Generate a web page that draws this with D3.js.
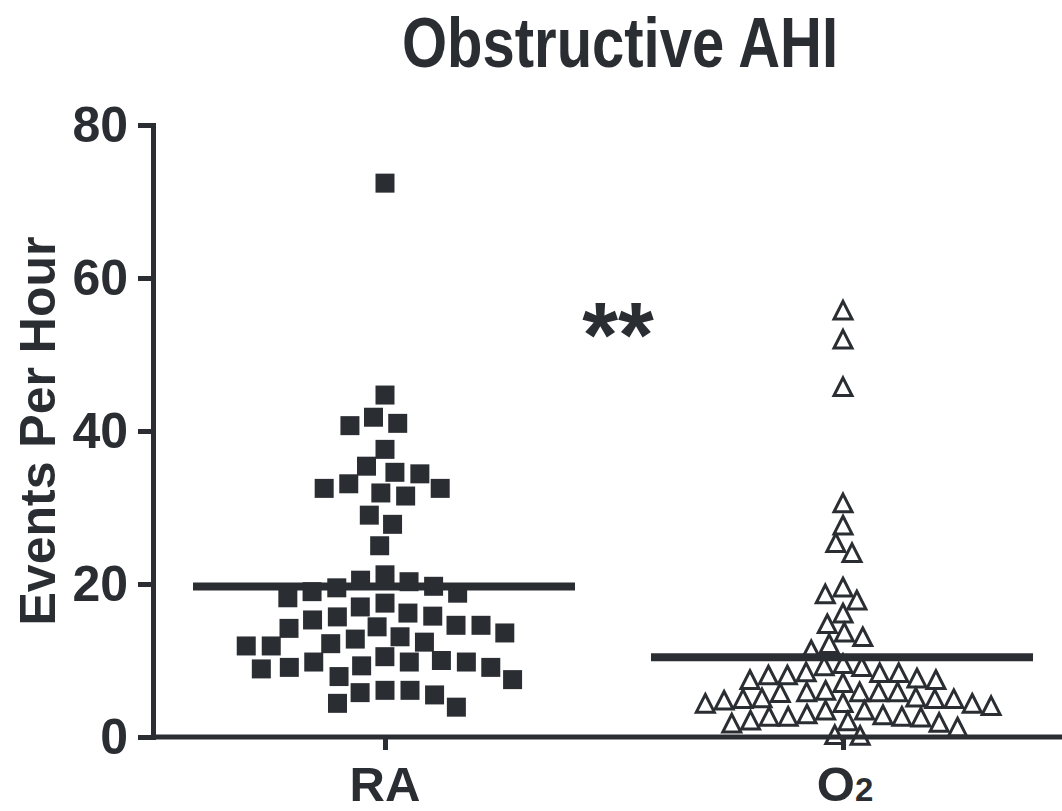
<!DOCTYPE html>
<html lang="en">
<head>
<meta charset="utf-8">
<title>Obstructive AHI</title>
<script src="https://cdn.jsdelivr.net/npm/d3@7/dist/d3.min.js"></script>
<style>
  body { margin: 0; background: #fff; }
  text { font-family: "Liberation Sans", Arial, sans-serif; font-weight: bold; fill: #2a2e33; }
</style>
</head>
<body>
<svg id="chart" width="1062" height="811"></svg>
<script>
  // values (events per hour)
  const groups = ["RA", "O2"];
  const raValues = [72.4, 44.7, 41.8, 41.0, 40.7, 37.6, 35.4, 34.6, 34.4, 33.1, 32.5, 32.5, 31.9, 31.5, 29.0, 27.8, 25.0,
    21.2, 20.5, 20.3, 19.7, 19.5, 19.0, 18.8, 18.2, 17.5, 17.0, 16.2, 15.8, 15.7,
    15.3, 14.6, 14.6, 14.4, 14.2, 13.6, 13.1, 12.8, 12.4, 12.2, 11.9, 11.9,
    10.5, 10.0, 9.8, 9.8, 9.8, 9.3, 9.1, 9.1, 8.9, 7.9, 7.5,
    6.1, 6.1, 5.8, 5.5, 4.4, 3.9];
  const o2Values = [55.8, 52.0, 45.8, 30.6, 27.7, 25.4, 24.1, 19.6, 18.7, 17.9, 16.2, 14.8, 13.7, 13.1, 12.2, 11.4,
    9.6, 9.2, 8.4, 8.1, 7.7, 7.5, 7.5, 8.1, 8.4, 8.5, 9.3,
    6.1, 5.9, 5.9, 5.2, 5.0, 5.0, 4.5, 4.4, 3.5, 3.5, 4.1, 4.4, 4.8, 5.1, 5.0, 5.8, 5.9, 5.9, 7.1,
    3.0, 2.9, 2.7, 2.2, 1.9, 1.3, 0.2, 0.3, 1.8, 2.1, 2.6, 2.7, 2.7];
  const yTicks = [0, 20, 40, 60, 80];
  const ink = "#2a2e33";

  const svg = d3.select("#chart");

  const y = d3.scaleLinear().domain([0, 80]).range([737, 125]);
  const x = d3.scalePoint().domain(groups).range([385, 843]);

  // title
  svg.append("text")
    .attr("transform", "translate(620,67) scale(1,1.2)")
    .attr("text-anchor", "middle")
    .style("font-size", "58px")
    .text("Obstructive AHI");

  // y axis
  const yAxis = svg.append("g")
    .attr("transform", "translate(153,0)")
    .call(d3.axisLeft(y).tickValues(yTicks).tickSize(15).tickSizeOuter(0).tickPadding(10));
  yAxis.select(".domain").attr("stroke", ink).attr("stroke-width", 5).attr("stroke-linecap", "square");
  yAxis.selectAll(".tick line").attr("stroke", ink).attr("stroke-width", 5);
  yAxis.selectAll(".tick text")
    .attr("fill", ink)
    .style("font-family", "'Liberation Sans', Arial, sans-serif")
    .style("font-weight", "bold")
    .style("font-size", "50px");

  svg.append("text")
    .attr("transform", "translate(55,431) rotate(-90)")
    .attr("text-anchor", "middle")
    .style("font-size", "50px")
    .text("Events Per Hour");

  // x axis
  const xAxis = svg.append("g")
    .attr("transform", `translate(0,${y(0)})`)
    .call(d3.axisBottom(x).tickSize(13).tickFormat(""));
  xAxis.select(".domain").remove();
  xAxis.selectAll(".tick line").attr("stroke", ink).attr("stroke-width", 5);
  svg.append("line")
    .attr("x1", 153).attr("x2", 1062)
    .attr("y1", y(0)).attr("y2", y(0))
    .attr("stroke", ink).attr("stroke-width", 5);

  svg.append("text")
    .attr("x", x("RA")).attr("y", 801)
    .attr("text-anchor", "middle")
    .style("font-size", "49px")
    .text("RA");
  const o2Label = svg.append("text")
    .attr("x", x("O2") + 2).attr("y", 801)
    .attr("text-anchor", "middle")
    .style("font-size", "49px");
  o2Label.append("tspan").text("O");
  o2Label.append("tspan").style("font-size", "33px").text("2");

  // simple beeswarm: each point goes to the free spot nearest the centre
  function swarm(values, r) {
    const pts = values.map(v => ({ v, py: y(v) })).sort((a, b) => a.py - b.py);
    const placed = [];
    const d2 = 4 * r * r;
    pts.forEach(p => {
      const near = placed.filter(q => Math.abs(q.py - p.py) < 2 * r);
      const cands = [0];
      near.forEach(q => {
        const dx = Math.sqrt(d2 - (q.py - p.py) ** 2);
        cands.push(q.dx - dx, q.dx + dx);
      });
      cands.sort((a, b) => Math.abs(a) - Math.abs(b));
      p.dx = cands.find(c => near.every(q => (q.dx - c) ** 2 + (q.py - p.py) ** 2 >= d2 - 1e-6));
      placed.push(p);
    });
    return pts;
  }

  // RA: filled squares
  const square = d3.symbol().type(d3.symbolSquare).size(19 * 19);
  svg.append("g").selectAll("path")
    .data(swarm(raValues, 12.5))
    .join("path")
    .attr("d", square)
    .attr("transform", d => `translate(${x("RA") + d.dx},${d.py})`)
    .attr("fill", ink);

  // O2: open triangles
  const tri = {
    draw(ctx, size) {
      const w = Math.sqrt(size), h = w * 0.98;
      ctx.moveTo(0, -h / 2);
      ctx.lineTo(w / 2, h / 2);
      ctx.lineTo(-w / 2, h / 2);
      ctx.closePath();
    }
  };
  const triangle = d3.symbol().type(tri).size(18 * 18);
  svg.append("g").selectAll("path")
    .data(swarm(o2Values, 9.5))
    .join("path")
    .attr("d", triangle)
    .attr("transform", d => `translate(${x("O2") + d.dx},${d.py})`)
    .attr("fill", "none")
    .attr("stroke", ink)
    .attr("stroke-width", 3)
    .attr("stroke-linejoin", "miter");

  // mean lines
  const means = [
    { g: "RA", m: d3.mean(raValues) },
    { g: "O2", m: d3.mean(o2Values) }
  ];
  svg.append("g").selectAll("line")
    .data(means)
    .join("line")
    .attr("x1", d => x(d.g) - 192)
    .attr("x2", d => x(d.g) + 190)
    .attr("y1", d => y(d.m))
    .attr("y2", d => y(d.m))
    .attr("stroke", ink)
    .attr("stroke-width", 8);

  // significance marker
  svg.append("text")
    .attr("x", 618).attr("y", 367)
    .attr("text-anchor", "middle")
    .style("font-size", "92px")
    .text("**");
</script>
</body>
</html>
